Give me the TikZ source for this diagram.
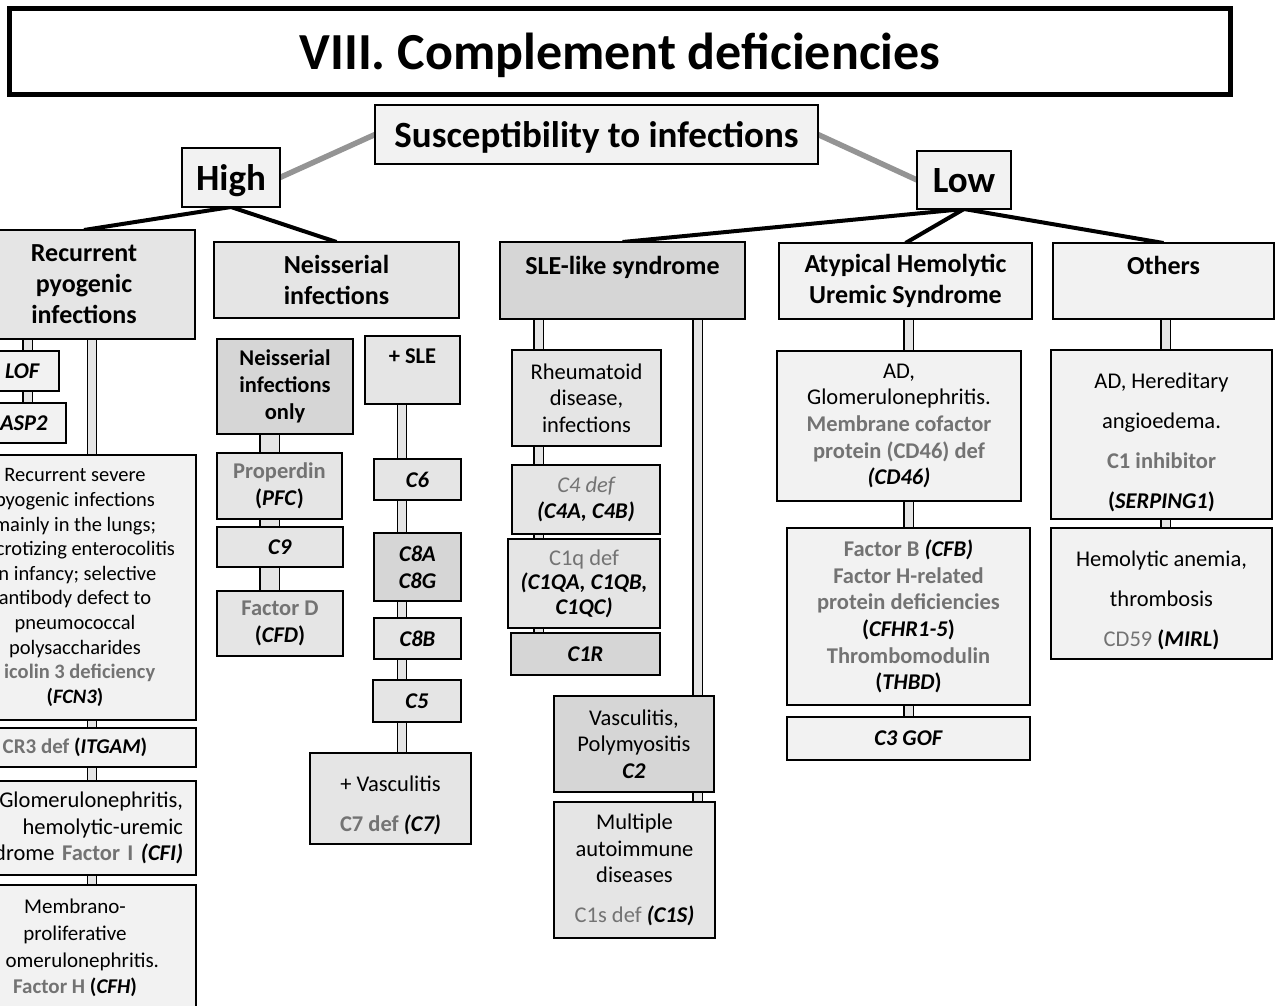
\documentclass[tikz,border=0pt]{standalone}
\usepackage{fontspec}
\setmainfont{Carlito}
\usetikzlibrary{backgrounds}
\definecolor{gtxt}{gray}{0.45}
\newcommand{\gp}[1]{{\color{gtxt}\bfseries #1}}
\newcommand{\gpl}[1]{{\color{gtxt}#1}}
\newcommand{\gene}[1]{\textbf{\textit{#1}}}
\begin{document}
\begin{tikzpicture}[x=1pt, y=-1pt,
    box/.style={draw, line width=1.4pt, rectangle, align=center, inner sep=1pt, outer sep=0pt,
      font=\fontsize{22.5}{26.7}\selectfont},
    sz/.style 2 args={minimum width=#1pt, minimum height=#2pt},
    boxlight/.style={fill=black!5},
    boxmid/.style={fill=black!10},
    boxdark/.style={fill=black!16},
    headtxt/.style={font=\fontsize{26}{31}\selectfont\bfseries},
    toptxt/.style={font=\fontsize{37}{44}\selectfont\bfseries, text depth=0pt},
    stemline/.style={line width=4pt},
    greylink/.style={line width=5.5pt, black!42},
    pipe/.style={double=black!10, double distance=8pt, line width=1.3pt},
    widepipe/.style={pipe, double distance=18pt}]
  \useasboundingbox (0,0) rectangle (1276,1005);
  \clip (0,0) rectangle (1276,1005);

  \node[draw, line width=5pt, fill=white, sz={1221}{86}, text depth=0pt,
    font=\fontsize{52}{60}\selectfont\bfseries] (title) at (620,51.5) {VIII. Complement deficiencies};

  \node[box, boxlight, toptxt, sz={443}{59}] (susc) at (596.5,134.5) {Susceptibility to infections};
  \node[box, boxlight, toptxt, sz={98}{59}] (high) at (231,177.5) {High};
  \node[box, boxlight, toptxt, sz={94}{58}] (low) at (964,180) {Low};

  \node[box, boxmid, headtxt, sz={222}{109}] (recur) at (84,284.5) {Recurrent\\pyogenic\\infections};
  \node[box, boxmid, headtxt, sz={245}{76}] (neis) at (336.5,280) {Neisserial\\infections};
  \node[box, boxdark, headtxt, sz={245}{77}] (sle) at (622.5,280.5) {SLE-like syndrome\\\mbox{}};
  \node[box, boxlight, headtxt, sz={253}{76}] (ahus) at (905.5,281) {Atypical Hemolytic\\Uremic Syndrome};
  \node[box, boxlight, headtxt, sz={221}{76}] (others) at (1163.5,281) {Others\\\mbox{}};

  \node[box, boxlight, sz={73}{40}] (lof) at (22.5,371) {\gene{LOF}};
  \node[box, boxlight, sz={104}{40}] (asp) at (14,423) {\gene{\phantom{M}ASP2}};
  \node[box, boxlight, sz={242}{265}, font=\fontsize{20.5}{24.6}\selectfont] (recsev) at (75,587.5)
    {Recurrent severe\\pyogenic infections\\mainly in the lungs;\\\phantom{ne}crotizing enterocolitis\\
     \phantom{i}n infancy; selective\\antibody defect to\\pneumococcal\\polysaccharides\\
     \gp{\phantom{F}icolin 3 deficiency}\\\textbf{(\textit{FCN3})}};
  \node[box, boxlight, sz={242}{39}, font=\fontsize{21}{25}\selectfont] (cr3) at (75,747.5)
    {\gp{CR3 def} \textbf{(\textit{ITGAM})}};
  \node[box, boxlight, sz={242}{94}, text width=216pt, align=right] (glom) at (75,828)
    {Glomerulonephritis,\\hemolytic-uremic\\drome \gp{Factor I} \gene{(CFI)}};
  \node[box, boxlight, sz={242}{126}, font=\fontsize{21}{26.7}\selectfont] (memb) at (75,948)
    {Membrano-\\proliferative\\\phantom{gl}omerulonephritis.\\\gp{Factor H} \textbf{(\textit{CFH})}};

  \node[box, boxdark, sz={136}{95}, font=\fontsize{22.5}{27}\selectfont\bfseries] (nonly) at (285,386.5)
    {Neisserial\\infections\\only};
  \node[box, boxmid, sz={95}{68}, font=\fontsize{22.5}{27}\selectfont\bfseries] (plussle) at (412.5,370)
    {+ SLE\\\mbox{}};
  \node[box, boxmid, sz={125}{66}] (prop) at (279.5,486) {\gp{Properdin}\\\textbf{(\textit{PFC})}};
  \node[box, boxmid, sz={126}{40}] (c9) at (280,547) {\gene{C9}};
  \node[box, boxmid, sz={126}{65}] (cfd) at (280,623.5) {\gp{Factor D}\\\textbf{(\textit{CFD})}};
  \node[box, boxmid, sz={87}{41}] (c6) at (417.5,479.5) {\gene{C6}};
  \node[box, boxdark, sz={87}{68}] (c8a) at (417.5,567) {\gene{C8A}\\\gene{C8G}};
  \node[box, boxmid, sz={87}{41}] (c8b) at (417.5,638.5) {\gene{C8B}};
  \node[box, boxmid, sz={88}{42}] (c5) at (417,701) {\gene{C5}};
  \node[box, boxmid, sz={161}{91}, font=\fontsize{22.5}{40}\selectfont] (c7) at (390.5,798.5)
    {\rule{0pt}{29pt}+ Vasculitis\\\gp{C7 def} \gene{(C7)}};

  \node[box, boxmid, sz={149}{96}] (rheum) at (586.5,398) {Rheumatoid\\disease,\\infections};
  \node[box, boxmid, sz={148}{69}] (c4) at (586,499.5) {{\color{gtxt}\itshape C4 def}\\\gene{(C4A, C4B)}};
  \node[box, boxmid, sz={152}{89}, font=\fontsize{22.5}{24.5}\selectfont] (c1q) at (584,583.5)
    {\gpl{C1q def}\\\gene{(C1QA, C1QB,}\\\gene{C1QC)}};
  \node[box, boxdark, sz={149}{42}] (c1r) at (585.5,654) {\gene{C1R}};
  \node[box, boxdark, sz={160}{96}] (c2) at (634,744) {Vasculitis,\\Polymyositis\\\gene{C2}};
  \node[box, boxmid, sz={161}{136}] (c1s) at (634.5,870)
    {Multiple\\autoimmune\\diseases\\[13pt]\gpl{C1s def} \gene{(C1S)}};

  \node[box, boxlight, sz={244}{150}] (cd46) at (899,426)
    {AD,\\Glomerulonephritis.\\\gp{Membrane cofactor}\\\gp{protein (CD46) def}\\\gene{(CD46)}};
  \node[box, boxlight, sz={243}{177}] (cfb) at (908.5,616.5)
    {\gp{Factor B} \gene{(CFB)}\\\gp{Factor H-related}\\\gp{protein deficiencies}\\
     \textbf{(\textit{CFHR1-5})}\\\gp{Thrombomodulin}\\\textbf{(\textit{THBD})}};
  \node[box, boxlight, sz={243}{43}] (c3) at (908.5,738.5) {\gene{C3 GOF}};

  \node[box, boxlight, sz={221}{169}, font=\fontsize{22.5}{40}\selectfont] (serping) at (1161.5,434.5)
    {\rule{0pt}{31pt}AD, Hereditary\\angioedema.\\\gp{C1 inhibitor}\\\textbf{(\textit{SERPING1})}};
  \node[box, boxlight, sz={221}{131}, font=\fontsize{22.5}{40}\selectfont] (cd59) at (1161.5,593.5)
    {\rule{0pt}{30pt}Hemolytic anemia,\\thrombosis\\\gpl{CD59} \textbf{(\textit{MIRL})}};

  \begin{scope}[on background layer]
    \fill[white] (0,0) rectangle (1276,1005);
    \draw[greylink] (high.east) -- (susc.west);
    \draw[greylink] (susc.east) -- (low.west);
    \draw[stemline] (high.south) -- (recur.north);
    \draw[stemline] (high.south) -- (neis.north);
    \draw[stemline] (low.south) -- (sle.north);
    \draw[stemline] (low.south) -- (ahus.north);
    \draw[stemline] (low.south) -- (others.north);

    \draw[pipe] (recur.south -| 27.5,0) -- (lof.north -| 27.5,0);
    \draw[pipe] (lof.south -| 27.5,0) -- (asp.north -| 27.5,0);
    \draw[pipe] (recur.south -| 92,0) -- (recsev.north -| 92,0);
    \draw[pipe] (recsev.south -| 92,0) -- (cr3.north -| 92,0);
    \draw[pipe] (cr3.south -| 92,0) -- (glom.north -| 92,0);
    \draw[pipe] (glom.south -| 92,0) -- (memb.north -| 92,0);

    \draw[widepipe] (nonly.south -| 269.5,0) -- (prop.north -| 269.5,0);
    \draw[widepipe] (prop.south -| 269.5,0) -- (c9.north -| 269.5,0);
    \draw[widepipe] (c9.south -| 269.5,0) -- (cfd.north -| 269.5,0);
    \draw[pipe] (plussle.south -| 402,0) -- (c6.north -| 402,0);
    \draw[pipe] (c6.south -| 402,0) -- (c8a.north -| 402,0);
    \draw[pipe] (c8a.south -| 402,0) -- (c8b.north -| 402,0);
    \draw[pipe] (c8b.south -| 402,0) -- (c5.north -| 402,0);
    \draw[pipe] (c5.south -| 402,0) -- (c7.north -| 402,0);

    \draw[pipe] (sle.south -| 538.5,0) -- (rheum.north -| 538.5,0);
    \draw[pipe] (rheum.south -| 538.5,0) -- (c4.north -| 538.5,0);
    \draw[pipe] (c4.south -| 538.5,0) -- (c1q.north -| 538.5,0);
    \draw[pipe] (c1q.south -| 538.5,0) -- (c1r.north -| 538.5,0);
    \draw[pipe] (sle.south -| 697.5,0) -- (c2.north -| 697.5,0);
    \draw[pipe] (c2.south -| 697.5,0) -- (c1s.north -| 697.5,0);

    \draw[pipe] (ahus.south -| 908.5,0) -- (cd46.north -| 908.5,0);
    \draw[pipe] (cd46.south -| 908.5,0) -- (cfb.north -| 908.5,0);
    \draw[pipe] (cfb.south -| 908.5,0) -- (c3.north -| 908.5,0);

    \draw[pipe] (others.south -| 1165.5,0) -- (serping.north -| 1165.5,0);
    \draw[pipe] (serping.south -| 1165.5,0) -- (cd59.north -| 1165.5,0);
  \end{scope}
\end{tikzpicture}
\end{document}
